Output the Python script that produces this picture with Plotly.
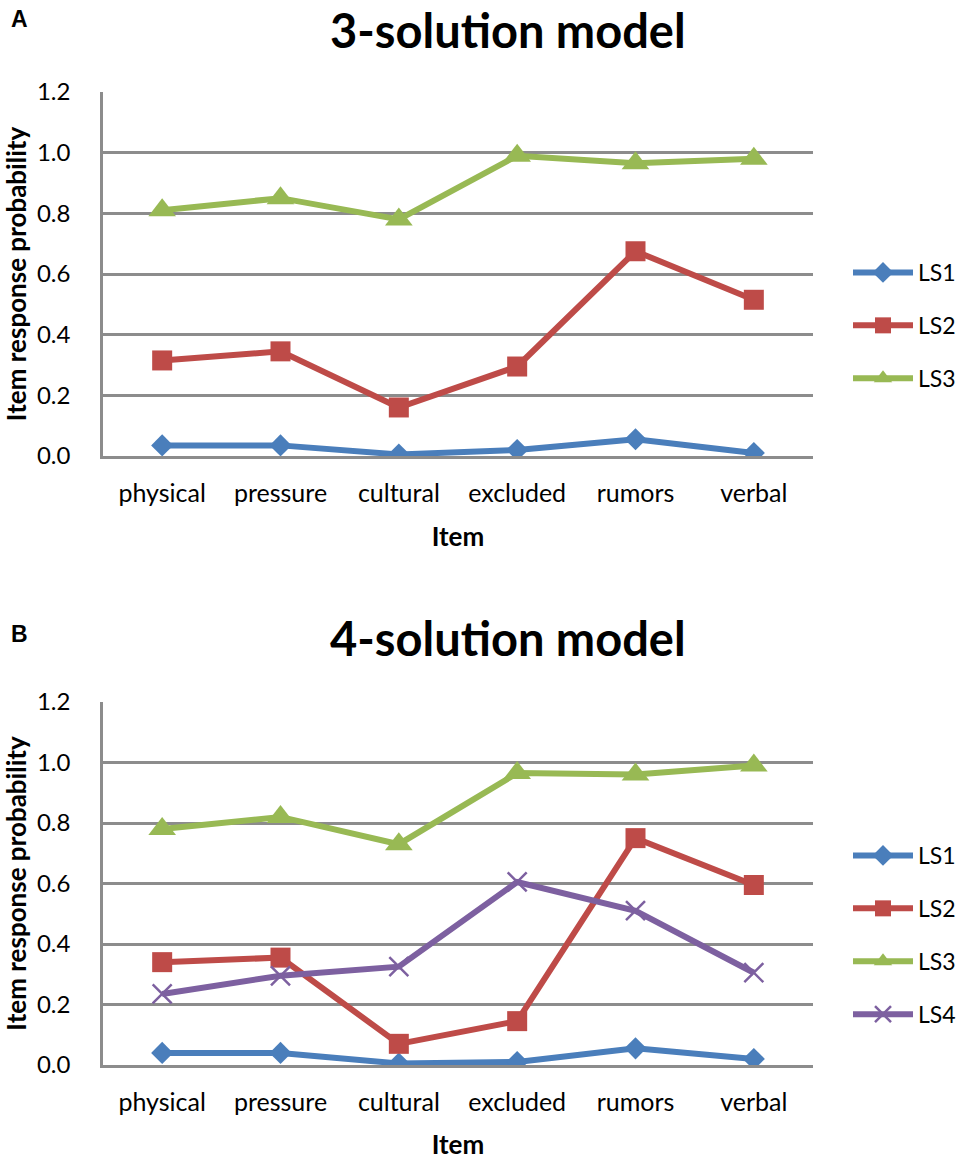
import plotly.graph_objects as go

items = ["physical", "pressure", "cultural", "excluded", "rumors", "verbal"]

# Panel A: 3-solution model
a_ls1 = [0.035, 0.035, 0.005, 0.020, 0.055, 0.010]
a_ls2 = [0.315, 0.345, 0.160, 0.295, 0.675, 0.515]
a_ls3 = [0.810, 0.850, 0.780, 0.990, 0.965, 0.980]

# Panel B: 4-solution model
b_ls1 = [0.040, 0.040, 0.005, 0.010, 0.055, 0.020]
b_ls2 = [0.340, 0.355, 0.070, 0.145, 0.750, 0.595]
b_ls3 = [0.780, 0.820, 0.730, 0.965, 0.960, 0.990]
b_ls4 = [0.235, 0.295, 0.325, 0.605, 0.510, 0.305]

y_ticks = [0.0, 0.2, 0.4, 0.6, 0.8, 1.0, 1.2]
y_tick_text = ["0.0", "0.2", "0.4", "0.6", "0.8", "1.0", "1.2"]

FONT = "Lato"
C1, C2, C3, C4 = "#4A7EBB", "#BE4B48", "#98B954", "#7D60A0"
GRID = "#8C8C8C"

styles = {
    "LS1": dict(color=C1, symbol="diamond", size=17),
    "LS2": dict(color=C2, symbol="square", size=20),
    "LS3": dict(color=C3, symbol="triangle-up", size=24),
    "LS4": dict(color=C4, symbol="x-thin-open", size=19),
}

fig = go.Figure()

def add(name, ys, xa, ya, leg):
    s = styles[name]
    marker = dict(color=s["color"], symbol=s["symbol"], size=s["size"])
    if s["symbol"] == "x-thin-open":
        marker["line"] = dict(color=s["color"], width=2.5)
    fig.add_trace(go.Scatter(
        x=items, y=ys, name=name, mode="lines+markers",
        line=dict(color=s["color"], width=6),
        marker=marker, xaxis=xa, yaxis=ya, legend=leg,
        legendgroup=leg + name,
    ))

add("LS1", a_ls1, "x", "y", "legend")
add("LS2", a_ls2, "x", "y", "legend")
add("LS3", a_ls3, "x", "y", "legend")
add("LS1", b_ls1, "x2", "y2", "legend2")
add("LS2", b_ls2, "x2", "y2", "legend2")
add("LS3", b_ls3, "x2", "y2", "legend2")
add("LS4", b_ls4, "x2", "y2", "legend2")

W, H = 961, 1160

def px(x):
    return x / W

def py(y):
    return (H - y) / H

xdom = [px(103), px(813)]

def xaxis(dom_anchor):
    return dict(
        domain=xdom, anchor=dom_anchor, type="category", range=[-0.5, 5.5],
        showgrid=False, showline=True, linecolor=GRID, linewidth=2.5,
        ticks="", tickfont=dict(family=FONT, size=25, color="black"),
        ticklabelstandoff=13, automargin=False,
        title=dict(text="<b>Item</b>", font=dict(family=FONT, size=26, color="black"), standoff=23),
        zeroline=False,
    )

def yaxis(dom, anchor):
    return dict(
        domain=dom, anchor=anchor, range=[0, 1.2], tickvals=y_ticks, ticktext=y_tick_text,
        showgrid=True, gridcolor=GRID, gridwidth=3, showline=True, linecolor=GRID, linewidth=2.5,
        zeroline=False, ticks="", tickfont=dict(family=FONT, size=24, color="black"),
        ticklabelstandoff=25, automargin=False,
        title=dict(text="<b>Item response probability</b>", font=dict(family=FONT, size=26, color="black"), standoff=17),
    )

leg_common = dict(xanchor="left", yanchor="top",
                  font=dict(family=FONT, size=23, color="black"),
                  tracegroupgap=20, itemwidth=60, bgcolor="rgba(0,0,0,0)")

fig.update_layout(
    width=W, height=H, margin=dict(l=0, r=0, t=0, b=0, autoexpand=False),
    paper_bgcolor="white", plot_bgcolor="white",
    font=dict(family=FONT, color="black"),
    xaxis=xaxis("y"),
    yaxis=yaxis([py(456), py(92)], "x"),
    xaxis2=xaxis("y2"),
    yaxis2=yaxis([py(1065), py(702)], "x2"),
    legend=dict(x=px(848), y=py(251), **leg_common),
    legend2=dict(x=px(848), y=py(834), **leg_common),
    showlegend=True,
    annotations=[
        dict(text="<b>3-solution model</b>", x=px(508), y=py(30), xref="paper", yref="paper",
             showarrow=False, font=dict(family=FONT, size=47, color="black"), xanchor="center", yanchor="middle"),
        dict(text="<b>4-solution model</b>", x=px(508), y=py(638), xref="paper", yref="paper",
             showarrow=False, font=dict(family=FONT, size=47, color="black"), xanchor="center", yanchor="middle"),
        dict(text="<b>A</b>", x=px(9), y=py(19), xref="paper", yref="paper",
             showarrow=False, font=dict(family="Liberation Sans", size=23, color="black"), xanchor="left", yanchor="middle"),
        dict(text="<b>B</b>", x=px(9), y=py(634), xref="paper", yref="paper",
             showarrow=False, font=dict(family="Liberation Sans", size=23, color="black"), xanchor="left", yanchor="middle"),
    ],
)

fig.write_html("out.html", config={"displayModeBar": False},
               post_script="document.body.style.margin='0';document.body.style.overflow='hidden';")
